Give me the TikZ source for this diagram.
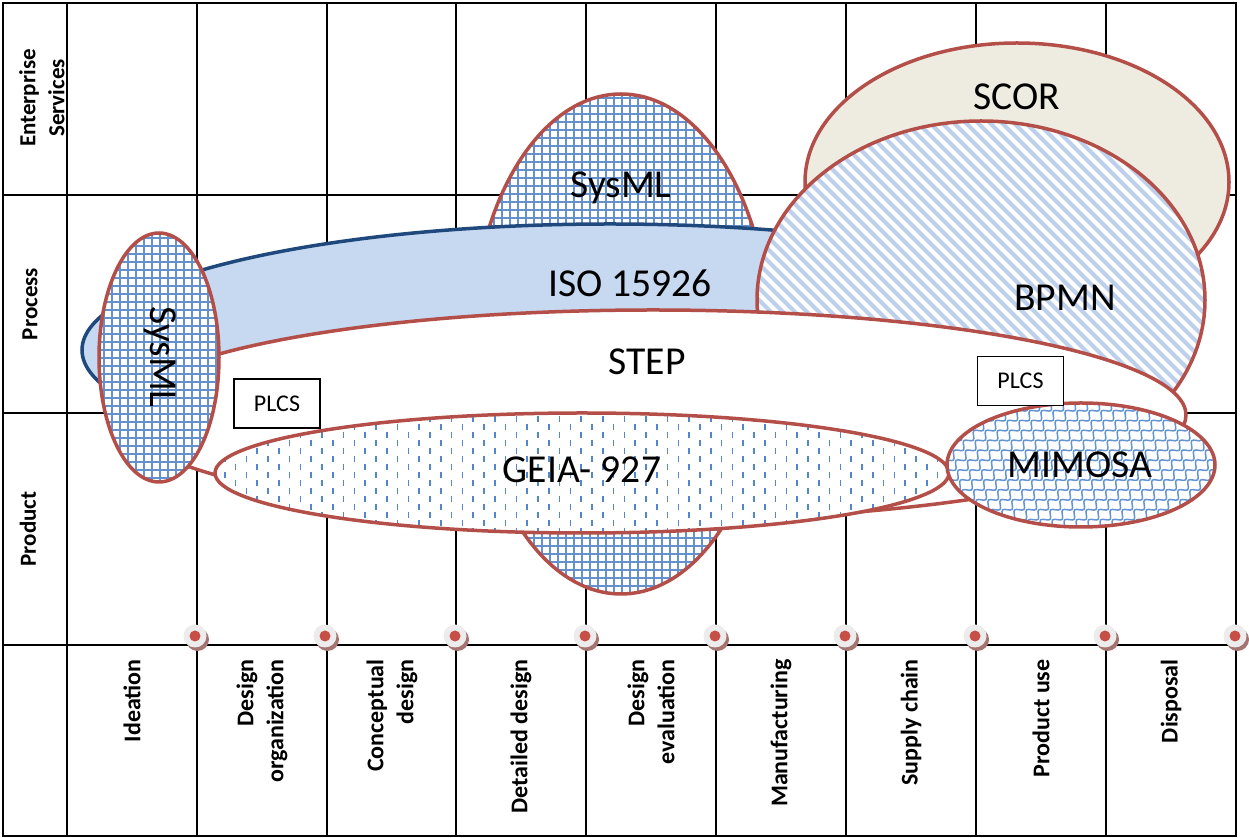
\documentclass[tikz,border=0pt]{standalone}
\usepackage{fontspec}
\setmainfont{Carlito}
\usetikzlibrary{decorations.pathmorphing}
\definecolor{bordred}{RGB}{180,78,72}
\definecolor{isoblue}{RGB}{198,217,241}
\definecolor{isoedge}{RGB}{31,73,125}
\definecolor{scorfill}{RGB}{238,236,225}
\definecolor{gridblue}{RGB}{100,145,206}
\definecolor{stripeblue}{RGB}{188,208,236}
\definecolor{dashblue}{RGB}{85,135,200}
\definecolor{mimblue}{RGB}{100,148,212}
\definecolor{dotred}{RGB}{200,78,72}
\definecolor{dotgrey}{RGB}{236,236,236}
\definecolor{dotshadow}{RGB}{165,115,112}
\begin{document}
\begin{tikzpicture}[x=0.5pt,y=-0.5pt,
  redge/.style={draw=bordred,line width=1.75pt},
  tableline/.style={black,line width=1pt},
  gridpat/.style={gridblue,line width=1pt},
  biglabel/.style={font=\fontsize{19.8}{23}\selectfont,inner sep=0pt},
  rowlabel/.style={font=\bfseries\fontsize{11.5}{14.5}\selectfont,rotate=90,align=center,inner sep=0pt},
  phaselabel/.style={font=\bfseries\fontsize{12}{15}\selectfont,rotate=90,align=right,anchor=east,inner sep=0pt},
  plcsbox/.style={draw=black,line width=0.6pt,fill=white,minimum width=43pt,minimum height=24.5pt,inner sep=0pt,font=\fontsize{12}{14}\selectfont},
]
\fill[white] (0,0) rectangle (1249,838);
\useasboundingbox (0,0) rectangle (1249,838);
% table
\draw[tableline] (3,3) rectangle (1236,836);
\foreach \y in {195,413,645} \draw[tableline] (3,\y) -- (1236,\y);
\foreach \x in {67,197,326.5,456,586,716,846,976,1106} \draw[tableline] (\x,3) -- (\x,836);

% SysML (large)
\fill[white] (621,344) ellipse [x radius=149, y radius=250];
\begin{scope}
\clip (621,344) ellipse [x radius=149, y radius=250];
\foreach \x in {470,478,...,775} \draw[gridpat] (\x,90) -- (\x,598);
\foreach \y in {90,98,...,598} \draw[gridpat] (468,\y) -- (775,\y);
\end{scope}
\draw[redge] (621,344) ellipse [x radius=149, y radius=250];

% SCOR
\filldraw[fill=scorfill,redge] (1017,182) ellipse [x radius=212, y radius=139];

% ISO 15926
\filldraw[fill=isoblue,draw=isoedge,line width=1.75pt] (610,350) ellipse [x radius=528, y radius=126];

% BPMN
\fill[white] (981,300) ellipse [x radius=224, y radius=179];
\begin{scope}
\clip (981,300) ellipse [x radius=224, y radius=179];
\foreach \x in {370,382,...,1215} \draw[stripeblue,line width=2.1pt] (\x,115) -- ++(380,380);
\end{scope}
\draw[redge] (981,300) ellipse [x radius=224, y radius=179];

% STEP
\filldraw[fill=white,redge] (653,415) ellipse [x radius=533, y radius=105];

% GEIA-927
\fill[white] (582,473) ellipse [x radius=367, y radius=60];
\begin{scope}
\clip (582,473) ellipse [x radius=367, y radius=60];
\foreach \i in {0,...,68} {
  \pgfmathsetmacro\xx{214+\i*10.8}
  \pgfmathsetmacro\off{mod(\i,2)*8}
  \foreach \y in {400,416,...,540} \draw[dashblue,line width=0.8pt] (\xx,{\y+\off}) -- ++(0,6.5);
}
\end{scope}
\draw[redge] (582,473) ellipse [x radius=367, y radius=60];

% MIMOSA
\fill[white] (1081,465) ellipse [x radius=134, y radius=62];
\begin{scope}
\clip (1081,465) ellipse [x radius=134, y radius=62];
\foreach \x in {780,792,...,1230} \draw[mimblue,line width=0.75pt,decorate,decoration={snake,amplitude=1.6pt,segment length=7pt}] (\x,545) -- ++(170,-170);
\end{scope}
\draw[redge] (1081,465) ellipse [x radius=134, y radius=62];

% SysML (small, left)
\fill[white] (159,357.5) ellipse [x radius=60, y radius=124.5];
\begin{scope}
\clip (159,357.5) ellipse [x radius=60, y radius=124.5];
\foreach \x in {96,104,...,222} \draw[gridpat] (\x,230) -- (\x,485);
\foreach \y in {230,238,...,485} \draw[gridpat] (96,\y) -- (222,\y);
\end{scope}
\draw[redge] (159,357.5) ellipse [x radius=60, y radius=124.5];

% PLCS boxes
\node[plcsbox] (plcs1) at (277,403.5) {PLCS};
\node[plcsbox] (plcs2) at (1020.5,381) {PLCS};

% big labels
\node[biglabel] (scor) at (1017,97) {SCOR};
\node[biglabel] (sysmltop) at (621,188) {SysML};
\node[biglabel] (iso) at (630,283) {ISO 15926};
\node[biglabel] (bpmn) at (1065,298) {BPMN};
\node[biglabel] (step) at (647,362) {STEP};
\node[biglabel] (geia) at (582,470) {GEIA- 927};
\node[biglabel] (mimosa) at (1080,465) {MIMOSA};
\node[biglabel,rotate=-90] (sysmlleft) at (160,357) {SysML};

% row labels
\node[rowlabel] (ent) at (42,98) {Enterprise\\Services};
\node[rowlabel] (proc) at (30,304) {Process};
\node[rowlabel] (prod) at (28,529) {Product};

% phase labels
\node[phaselabel] (ph1) at (132,659) {Ideation};
\node[phaselabel] (ph2) at (262,659) {Design\\organization};
\node[phaselabel] (ph3) at (392,659) {Conceptual\\design};
\node[phaselabel] (ph4) at (521,659) {Detailed design};
\node[phaselabel] (ph5) at (651,659) {Design\\evaluation};
\node[phaselabel] (ph6) at (781,659) {Manufacturing};
\node[phaselabel] (ph7) at (911,659) {Supply chain};
\node[phaselabel] (ph8) at (1041,659) {Product use};
\node[phaselabel] (ph9) at (1171,659) {Disposal};

% milestone dots
\foreach \x in {195,325,455,585,715,845,975,1105,1235} {
  \fill[dotshadow] (\x+2.5,639.5) circle (11.5);
  \fill[dotgrey] (\x,636) circle (11.5);
  \fill[dotred] (\x,636) circle (5.5);
}
\end{tikzpicture}
\end{document}
